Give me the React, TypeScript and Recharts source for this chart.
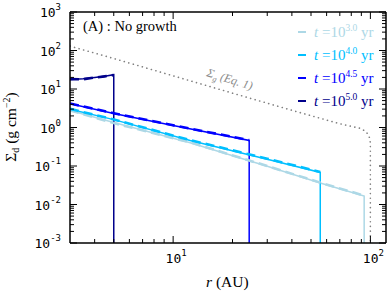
import React from "react";
import { LineChart, Line, XAxis, YAxis } from "recharts";

// gas surface density (dotted)
const gasR = [3, 5, 10, 20, 40, 70, 89, 95, 98.5, 100, 100];
const gasSigma = [130, 62, 22, 7.8, 2.8, 1.25, 0.95, 0.78, 0.6, 0.4, 1e-5];

// dust profiles, one per snapshot
const r30 = [3, 5, 12.2, 30, 55.7, 93, 93];
const s30 = [2.75, 1.35, 0.4, 0.098, 0.036, 0.0166, 1e-5];
const r40 = [3, 5, 12.2, 30, 55.7, 55.7];
const s40 = [3.0, 1.6, 0.46, 0.15, 0.068, 1e-5];
const r45 = [3, 5, 10, 24.3, 24.3];
const s45 = [4.15, 2.3, 1.12, 0.46, 1e-5];
const r50 = [3, 3.5, 4, 4.5, 5, 5];
const s50 = [17.6, 18.5, 20, 21.5, 23.5, 1e-5];

// thicker dashed overlays (slightly noisy numerical runs)
const s30d = [2.8, 1.3, 0.41, 0.1, 0.037, 0.017];
const s40d = [3.05, 1.62, 0.47, 0.155, 0.07];
const s45d = [4.2, 2.35, 1.14, 0.47];
const s50d = [18, 17.9, 19.8, 21.3, 23];

const labels = ["3.0", "4.0", "4.5", "5.0"];
const colors = ["#add8e6", "#00bfff", "#0000ff", "#00008b"];

const yDecades = [-3, -2, -1, 0, 1, 2, 3];
const minorSteps = [2, 3, 4, 5, 6, 7, 8, 9];

const toPts = (rs: number[], ss: number[]) =>
  ss.map((s, i) => ({ r: rs[i], s }));

const yTicks: number[] = [];
yDecades.forEach((e) => {
  yTicks.push(Math.pow(10, e));
  if (e < 3) minorSteps.forEach((m) => yTicks.push(m * Math.pow(10, e)));
});
const xTicks = [4, 5, 6, 7, 8, 9, 10, 20, 30, 40, 50, 60, 70, 80, 90, 100];

const isDecade = (v: number) =>
  Math.abs(Math.log10(v) - Math.round(Math.log10(v))) < 1e-6;

const mono = "DejaVu Sans Mono";
const serif = "Liberation Serif";

function YTick(props: any) {
  const { x, y, payload, side } = props;
  const v = payload.value;
  const major = isDecade(v);
  const len = major ? 7 : 4;
  const dir = side === "left" ? 1 : -1;
  const exp = Math.round(Math.log10(v));
  return (
    <g>
      <line x1={x} x2={x + dir * len} y1={y} y2={y} stroke="#000" strokeWidth={1} />
      {side === "left" && major && (
        <text x={x - 9} y={y + 5} textAnchor="end" fontFamily={mono} fontSize={13} fill="#000">
          10
          <tspan dy={-7} fontSize={9}>
            {exp}
          </tspan>
        </text>
      )}
    </g>
  );
}

function XTick(props: any) {
  const { x, y, payload, side } = props;
  const v = payload.value;
  const major = isDecade(v);
  const len = major ? 7 : 4;
  const dir = side === "bottom" ? -1 : 1;
  const exp = Math.round(Math.log10(v));
  return (
    <g>
      <line x1={x} x2={x} y1={y} y2={y + dir * len} stroke="#000" strokeWidth={1} />
      {side === "bottom" && major && (
        <text x={x + 3} y={y + 20} textAnchor="middle" fontFamily={mono} fontSize={13} fill="#000">
          10
          <tspan dy={-7} fontSize={9}>
            {exp}
          </tspan>
        </text>
      )}
    </g>
  );
}

export default function App() {
  const solid = [
    toPts(r30, s30),
    toPts(r40, s40),
    toPts(r45, s45),
    toPts(r50, s50),
  ];
  const dashed = [
    toPts(r30, s30d),
    toPts(r40, s40d),
    toPts(r45, s45d),
    toPts(r50, s50d),
  ];
  const axisLine = { stroke: "#000", strokeWidth: 1.5 };

  return (
    <div style={{ position: "relative", width: 390, height: 292, background: "#fff" }}>
      <style>{"body{margin:0}"}</style>
      <LineChart width={390} height={292} margin={{ top: 0, right: 0, bottom: 0, left: 0 }}>
        <XAxis
          xAxisId="b"
          dataKey="r"
          type="number"
          scale="log"
          domain={[3, 120]}
          allowDataOverflow
          ticks={xTicks}
          interval={0}
          height={49}
          tickSize={0}
          tickMargin={0}
          tickLine={false}
          axisLine={axisLine}
          tick={<XTick side="bottom" />}
        />
        <XAxis
          xAxisId="t"
          orientation="top"
          dataKey="r"
          type="number"
          scale="log"
          domain={[3, 120]}
          allowDataOverflow
          ticks={xTicks}
          interval={0}
          height={12}
          tickSize={0}
          tickMargin={0}
          tickLine={false}
          axisLine={axisLine}
          tick={<XTick side="top" />}
        />
        <YAxis
          yAxisId="l"
          type="number"
          scale="log"
          domain={[1e-3, 1e3]}
          allowDataOverflow
          ticks={yTicks}
          interval={0}
          width={70}
          tickSize={0}
          tickMargin={0}
          tickLine={false}
          axisLine={axisLine}
          tick={<YTick side="left" />}
        />
        <YAxis
          yAxisId="r"
          orientation="right"
          type="number"
          scale="log"
          domain={[1e-3, 1e3]}
          allowDataOverflow
          ticks={yTicks}
          interval={0}
          width={4}
          tickSize={0}
          tickMargin={0}
          tickLine={false}
          axisLine={axisLine}
          tick={<YTick side="right" />}
        />
        <Line
          xAxisId="b"
          yAxisId="l"
          data={toPts(gasR, gasSigma)}
          dataKey="s"
          stroke="#808080"
          strokeWidth={1.6}
          strokeDasharray="0.1 4.6"
          strokeLinecap="round"
          dot={false}
          isAnimationActive={false}
        />
        {solid.map((d, i) => (
          <Line
            key={"s" + i}
            xAxisId="b"
            yAxisId="l"
            data={d}
            dataKey="s"
            stroke={colors[i]}
            strokeWidth={1.5}
            dot={false}
            isAnimationActive={false}
          />
        ))}
        {dashed.map((d, i) => (
          <Line
            key={"d" + i}
            xAxisId="b"
            yAxisId="l"
            data={d}
            dataKey="s"
            stroke={colors[i]}
            strokeWidth={2.6}
            strokeDasharray="9 5"
            dot={false}
            isAnimationActive={false}
          />
        ))}
      </LineChart>
      <svg
        width={390}
        height={292}
        style={{ position: "absolute", left: 0, top: 0, pointerEvents: "none" }}
      >
        <text x={83} y={31} fontFamily={serif} fontSize={14.5} fill="#000">
          (A) : No growth
        </text>
        <text
          x={206}
          y={76}
          fontFamily={serif}
          fontSize={12}
          fill="#8a8a8a"
          transform="rotate(17 206 76)"
        >
          <tspan fontStyle="italic">Σ</tspan>
          <tspan fontSize={8} dy={3} fontStyle="italic">g</tspan>
          <tspan dy={-3} fontStyle="italic"> (Eq. 1)</tspan>
        </text>
        {labels.map((l, i) => (
          <g key={l}>
            <line x1={298} x2={306} y1={32 + i * 23} y2={32 + i * 23} stroke={colors[i]} strokeWidth={2} />
            <text x={314} y={37 + i * 23} fontFamily={serif} fontSize={15} fill={colors[i]}>
              <tspan fontStyle="italic">t</tspan>
              <tspan> =10</tspan>
              <tspan dy={-6} fontSize={9.5}>{l}</tspan>
              <tspan dy={6}> yr</tspan>
            </text>
          </g>
        ))}
        <text x={206} y={287} fontFamily={serif} fontSize={15.5} fill="#000">
          <tspan fontStyle="italic">r</tspan> (AU)
        </text>
        <text
          x={16}
          y={127}
          fontFamily={serif}
          fontSize={15.5}
          fill="#000"
          textAnchor="middle"
          transform="rotate(-90 16 127)"
        >
          Σ<tspan fontSize={10} dy={3}>d</tspan>
          <tspan dy={-3}> (g cm</tspan>
          <tspan fontSize={10} dy={-6}>−2</tspan>
          <tspan dy={6}>)</tspan>
        </text>
      </svg>
    </div>
  );
}
